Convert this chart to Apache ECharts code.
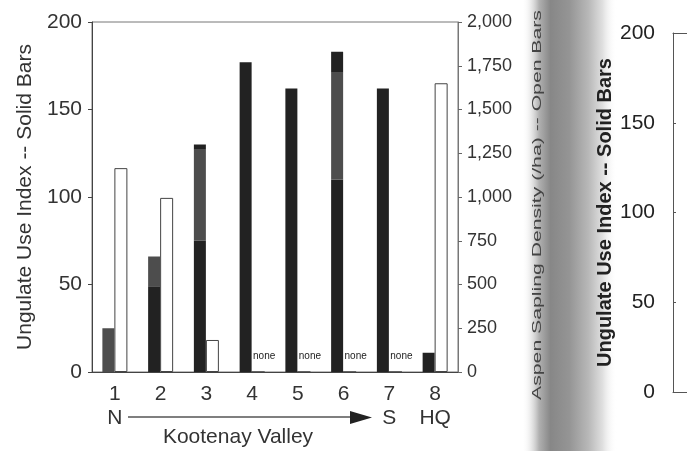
<!DOCTYPE html>
<html>
<head>
<meta charset="utf-8">
<script src="https://cdn.jsdelivr.net/npm/echarts@6/dist/echarts.min.js"></script>
<style>html,body{margin:0;padding:0;background:#fff;}#c{width:687px;height:451px;}</style>
</head>
<body>
<div id="c"></div>
<script>
// ---- data ----
var categories = ['1', '2', '3', '4', '5', '6', '7', '8'];
var subLabels  = ['N', '', '', '', '', '', 'S', 'HQ'];
// Ungulate Use Index (solid bars), split into dark base / gray band / dark cap as printed
var useBlack = [0, 49, 75, 177, 162, 110, 162, 11];
var useGray  = [25, 17, 52, 0, 0, 61, 0, 0];
var useCap   = [0, 0, 3, 0, 0, 12, 0, 0];
// Aspen sapling density (open bars), per ha
var aspen     = [1165, 995, 183, 0, 0, 0, 0, 1650];
var aspenNote = ['', '', '', 'none', 'none', 'none', 'none', ''];
var useTicks   = [0, 50, 100, 150, 200];
var aspenTicks = [0, 250, 500, 750, 1000, 1250, 1500, 1750, 2000];

var FONT = 'Liberation Sans, Arial, Helvetica, sans-serif';
var chart = echarts.init(document.getElementById('c'), null, {renderer: 'canvas'});

var xLabels = categories.map(function (c, i) { return subLabels[i] ? c + '\n' + subLabels[i] : c; });
var aspenData = aspen.map(function (v, i) {
  if (aspenNote[i]) {
    return {value: v, label: {show: true, formatter: aspenNote[i], position: 'top', distance: 10, offset: [6, 0],
      fontSize: 10, color: '#222', fontFamily: FONT}};
  }
  return v;
});

var option = {
  animation: false,
  backgroundColor: '#ffffff',
  textStyle: {fontFamily: FONT},
  grid: [
    {left: 92, width: 366, top: 22, height: 350, show: true, borderColor: '#777', borderWidth: 1, backgroundColor: 'transparent'},
    {left: 673, width: 60, top: 33, height: 359, show: false}
  ],
  xAxis: [
    {type: 'category', gridIndex: 0, data: xLabels,
      axisLine: {show: true, lineStyle: {color: '#444', width: 1}},
      axisTick: {show: false},
      axisLabel: {fontSize: 21, color: '#333', margin: 10, lineHeight: 24, fontFamily: FONT}},
    {type: 'category', gridIndex: 1, position: 'bottom', data: [''],
      axisLine: {show: true, lineStyle: {color: '#555'}}, axisTick: {show: false}, axisLabel: {show: false}},
    {type: 'category', gridIndex: 1, position: 'top', data: [''],
      axisLine: {show: true, lineStyle: {color: '#555'}}, axisTick: {show: false}, axisLabel: {show: false}}
  ],
  yAxis: [
    {type: 'value', gridIndex: 0, position: 'left', min: useTicks[0], max: useTicks[useTicks.length - 1], interval: 50,
      splitLine: {show: false},
      axisLine: {show: true, lineStyle: {color: '#444'}},
      axisTick: {show: true, length: 4, lineStyle: {color: '#444'}},
      axisLabel: {fontSize: 21, color: '#333', margin: 10, fontFamily: FONT},
      name: 'Ungulate Use Index -- Solid Bars', nameLocation: 'middle', nameRotate: 90, nameGap: 55,
      nameTextStyle: {fontSize: 21, color: '#333', fontFamily: FONT}},
    {type: 'value', gridIndex: 0, position: 'right', min: aspenTicks[0], max: aspenTicks[aspenTicks.length - 1], interval: 250,
      splitLine: {show: false},
      axisLine: {show: true, lineStyle: {color: '#777'}},
      axisTick: {show: true, length: 4, lineStyle: {color: '#666'}},
      axisLabel: {fontSize: 18, color: '#333', margin: 9, fontFamily: FONT,
        formatter: function (v) { return v.toLocaleString('en-US'); }}},
    {type: 'value', gridIndex: 1, position: 'left', min: useTicks[0], max: useTicks[useTicks.length - 1], interval: 50,
      splitLine: {show: false},
      axisLine: {show: true, lineStyle: {color: '#555'}},
      axisTick: {show: true, inside: true, length: 3, lineStyle: {color: '#555'}},
      axisLabel: {fontSize: 21, color: '#222', margin: 18, fontFamily: FONT},
      name: 'Ungulate Use Index -- Solid Bars', nameLocation: 'middle', nameRotate: 90, nameGap: 58,
      nameTextStyle: {fontSize: 20, fontWeight: 'bold', color: '#222', fontFamily: FONT}}
  ],
  series: [
    {name: 'Use base', type: 'bar', xAxisIndex: 0, yAxisIndex: 0, stack: 'use', barWidth: 12, barGap: '0%',
      data: useBlack, itemStyle: {color: '#222'}},
    {name: 'Use gray', type: 'bar', xAxisIndex: 0, yAxisIndex: 0, stack: 'use', barWidth: 12, barGap: '0%',
      data: useGray, itemStyle: {color: '#4d4d4d'}},
    {name: 'Use cap', type: 'bar', xAxisIndex: 0, yAxisIndex: 0, stack: 'use', barWidth: 12, barGap: '0%',
      data: useCap, itemStyle: {color: '#222'}},
    {name: 'Aspen density', type: 'bar', xAxisIndex: 0, yAxisIndex: 1, barWidth: 13, barGap: '0%',
      data: aspenData, itemStyle: {color: '#ffffff', borderColor: '#444', borderWidth: 1}}
  ],
  graphic: [
    {type: 'rect', z: -5, shape: {x: 522, y: 0, width: 95, height: 451},
      style: {fill: new echarts.graphic.LinearGradient(0, 0, 1, 0, [
        {offset: 0, color: 'rgba(255,255,255,0)'},
        {offset: 0.18, color: '#b0b0b0'},
        {offset: 0.3, color: '#878787'},
        {offset: 0.5, color: '#959595'},
        {offset: 0.7, color: '#b8b8b8'},
        {offset: 0.85, color: '#e0e0e0'},
        {offset: 1, color: 'rgba(255,255,255,0)'}
      ])}},
    {type: 'text', z: 10, x: 537, y: 205, rotation: Math.PI / 2, scaleX: 1.63,
      style: {text: 'Aspen Sapling Density (/ha) -- Open Bars', fontSize: 13, fill: '#444',
        fontFamily: FONT, textAlign: 'center', textVerticalAlign: 'middle'}},
    {type: 'line', z: 10, shape: {x1: 128, y1: 417, x2: 352, y2: 417}, style: {stroke: '#555', lineWidth: 1.5}},
    {type: 'polygon', z: 10, shape: {points: [[350, 411], [372, 417.5], [350, 424]]}, style: {fill: '#222'}},
    {type: 'text', z: 10, x: 238, y: 437,
      style: {text: 'Kootenay Valley', fontSize: 21, fill: '#333', fontFamily: FONT,
        textAlign: 'center', textVerticalAlign: 'middle'}}
  ]
};
chart.setOption(option);
</script>
</body>
</html>
